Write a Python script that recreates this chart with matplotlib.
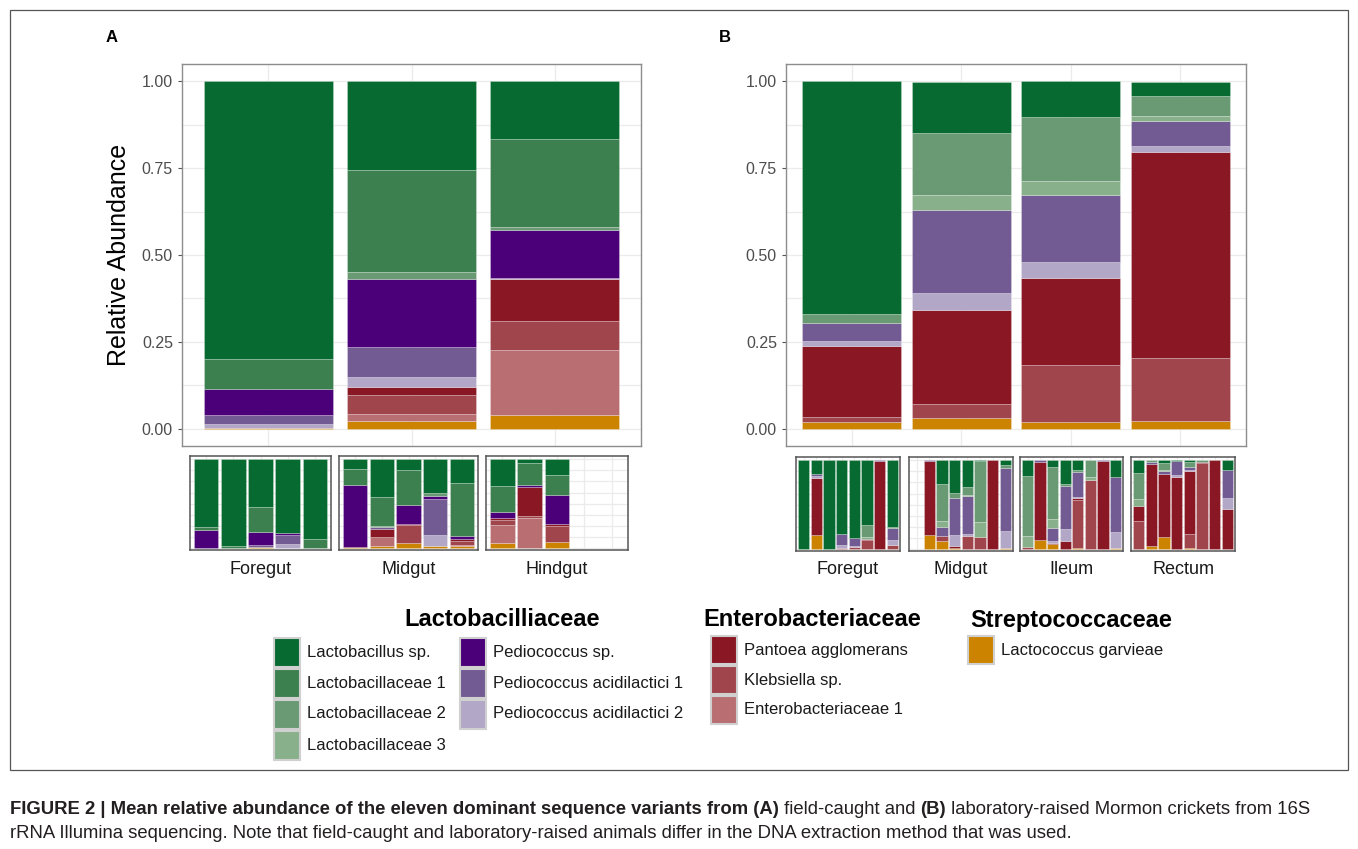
import matplotlib.pyplot as plt
import numpy as np
from matplotlib.patches import Rectangle

plt.rcParams["font.family"] = ["Liberation Sans", "DejaVu Sans"]

W, H = 1358, 849

TAXA = [
    "Lactobacillus sp.", "Lactobacillaceae 1", "Lactobacillaceae 2", "Lactobacillaceae 3",
    "Pediococcus sp.", "Pediococcus acidilactici 1", "Pediococcus acidilactici 2",
    "Pantoea agglomerans", "Klebsiella sp.", "Enterobacteriaceae 1",
    "Lactococcus garvieae",
]
COLORS = [
    "#076b31", "#3d804f", "#6a9a73", "#88b08b",
    "#4b007a", "#725a93", "#b3a7c8",
    "#8a1824", "#a0454b", "#b96e71",
    "#cc8400",
]
FAMILIES = ["Lactobacilliaceae", "Enterobacteriaceae", "Streptococcaceae"]

# every row follows TAXA order:
# LS, L1, L2, L3, PS, PA1, PA2, PAN, KL, EN1, LG
A_GROUPS = ["Foregut", "Midgut", "Hindgut"]
A_MEAN = [
    [0.800, 0.087, 0.000, 0.000, 0.074, 0.027, 0.010, 0.000, 0.000, 0.000, 0.002],
    [0.255, 0.294, 0.020, 0.000, 0.195, 0.087, 0.028, 0.025, 0.053, 0.021, 0.022],
    [0.167, 0.252, 0.008, 0.000, 0.140, 0.000, 0.002, 0.120, 0.085, 0.188, 0.038],
]
B_GROUPS = ["Foregut", "Midgut", "Ileum", "Rectum"]
B_MEAN = [
    [0.670, 0.000, 0.026, 0.000, 0.000, 0.051, 0.015, 0.205, 0.014, 0.000, 0.019],
    [0.149, 0.000, 0.178, 0.042, 0.000, 0.239, 0.049, 0.270, 0.040, 0.000, 0.032],
    [0.104, 0.000, 0.185, 0.038, 0.000, 0.194, 0.046, 0.250, 0.164, 0.000, 0.020],
    [0.040, 0.000, 0.059, 0.013, 0.000, 0.072, 0.017, 0.596, 0.180, 0.000, 0.022],
]

# per-animal samples (None = no sample in that slot)
A_FOREGUT = [
    [0.761, 0.038, 0, 0, 0.196, 0, 0, 0, 0, 0, 0.005],
    [0.980, 0.015, 0, 0, 0, 0, 0, 0, 0, 0, 0.005],
    [0.542, 0.275, 0, 0, 0.150, 0.018, 0.005, 0, 0, 0, 0.010],
    [0.834, 0, 0, 0, 0.019, 0.102, 0.038, 0, 0, 0, 0.007],
    [0.894, 0.098, 0, 0, 0.008, 0, 0, 0, 0, 0, 0],
]
A_MIDGUT = [
    [0.106, 0.181, 0, 0, 0.702, 0, 0, 0, 0, 0, 0.011],
    [0.426, 0.321, 0.019, 0, 0, 0.023, 0, 0.083, 0, 0.106, 0.022],
    [0.117, 0.396, 0, 0, 0.211, 0, 0, 0.019, 0.200, 0, 0.057],
    [0.385, 0, 0.030, 0, 0.030, 0.408, 0.125, 0, 0, 0, 0.022],
    [0.272, 0.596, 0, 0, 0.030, 0, 0, 0.023, 0.038, 0.015, 0.026],
]
A_HINDGUT = [
    [0.302, 0.287, 0, 0, 0.075, 0, 0, 0.019, 0.053, 0.211, 0.053],
    [0.040, 0.253, 0, 0, 0.023, 0, 0, 0.328, 0.013, 0.343, 0],
    [0.174, 0.234, 0, 0, 0.321, 0, 0, 0.023, 0.180, 0, 0.068],
    None,
    None,
]
B_FOREGUT = [
    [1.000, 0, 0, 0, 0, 0, 0, 0, 0, 0, 0],
    [0.156, 0, 0, 0, 0, 0.027, 0.015, 0.639, 0, 0, 0.163],
    [1.000, 0, 0, 0, 0, 0, 0, 0, 0, 0, 0],
    [0.825, 0, 0, 0, 0, 0.129, 0.030, 0, 0.016, 0, 0],
    [0.878, 0, 0, 0, 0, 0.084, 0.015, 0, 0.023, 0, 0],
    [0.726, 0, 0.140, 0.020, 0, 0, 0, 0.015, 0.099, 0, 0],
    [0, 0, 0, 0, 0, 0.011, 0, 0.989, 0, 0, 0],
    [0.749, 0, 0.015, 0, 0, 0.137, 0.053, 0, 0.046, 0, 0],
]
B_MIDGUT = [
    None,
    [0, 0, 0, 0, 0, 0.011, 0, 0.830, 0, 0, 0.159],
    [0.268, 0, 0.411, 0.075, 0, 0.098, 0, 0, 0.060, 0, 0.088],
    [0.374, 0, 0.049, 0, 0, 0.419, 0.121, 0.026, 0, 0, 0.011],
    [0.302, 0, 0.087, 0.019, 0, 0.423, 0.023, 0, 0.146, 0, 0],
    [0.011, 0, 0.687, 0.170, 0, 0, 0, 0, 0.132, 0, 0],
    [0, 0, 0, 0, 0, 0, 0, 1.000, 0, 0, 0],
    [0.057, 0, 0.026, 0, 0, 0.717, 0.189, 0, 0, 0, 0.011],
]
B_ILEUM = [
    [0.179, 0, 0.669, 0.129, 0, 0, 0, 0, 0.023, 0, 0],
    [0, 0, 0, 0, 0, 0.019, 0, 0.882, 0, 0, 0.099],
    [0.076, 0, 0.589, 0.095, 0, 0.152, 0.019, 0.011, 0, 0, 0.058],
    [0.266, 0, 0.019, 0, 0, 0.487, 0.141, 0.087, 0, 0, 0],
    [0.114, 0, 0.019, 0, 0, 0.285, 0.011, 0.019, 0.533, 0, 0.019],
    [0, 0, 0.190, 0.038, 0, 0, 0, 0, 0.772, 0, 0],
    [0, 0, 0, 0, 0, 0.008, 0, 0.992, 0, 0, 0],
    [0.190, 0, 0, 0, 0, 0.616, 0.183, 0, 0, 0, 0.011],
]
B_RECTUM = [
    [0.141, 0, 0.297, 0.076, 0, 0, 0, 0.171, 0.315, 0, 0],
    [0, 0, 0.019, 0, 0, 0.019, 0, 0.924, 0, 0, 0.038],
    [0.030, 0, 0.076, 0.019, 0, 0.034, 0, 0.704, 0, 0, 0.137],
    [0.011, 0, 0, 0, 0, 0.160, 0.023, 0.806, 0, 0, 0],
    [0.019, 0, 0.057, 0, 0, 0.030, 0.011, 0.711, 0.153, 0, 0.019],
    [0, 0, 0.019, 0, 0, 0, 0, 0.011, 0.970, 0, 0],
    [0, 0, 0, 0, 0, 0, 0, 1.000, 0, 0, 0],
    [0.114, 0, 0, 0, 0, 0.316, 0.114, 0.456, 0, 0, 0],
]

TICK_GREY = "#4d4d4d"
GRID = "#ebebeb"


def px_axes(fig, x0, y0, x1, y1):
    return fig.add_axes([x0 / W, 1 - y1 / H, (x1 - x0) / W, (y1 - y0) / H])


def stack_bars(ax, samples):
    n = len(samples)
    x = np.arange(1, n + 1)
    vals = np.array([s if s is not None else [0] * len(TAXA) for s in samples], dtype=float)
    bottom = np.zeros(n)
    # stacked from the last taxon (bottom) up to the first (top)
    for k in range(len(TAXA) - 1, -1, -1):
        h = vals[:, k]
        keep = h > 0
        if keep.any():
            ax.bar(x[keep], h[keep], bottom=bottom[keep], width=0.9, color=COLORS[k],
                   edgecolor=(1, 1, 1, 0.35), linewidth=0.5, zorder=3)
        bottom += h
    ax.set_xlim(0.4, n + 0.6)


def style(ax, border, lw, ylim):
    ax.set_ylim(*ylim)
    ax.set_yticks([0, 0.25, 0.5, 0.75, 1.0])
    ax.set_yticks([0.125, 0.375, 0.625, 0.875], minor=True)
    ax.set_xticks(np.arange(1, int(ax.get_xlim()[1]) + 1))
    ax.grid(True, which="both", color=GRID, linewidth=0.9, zorder=0)
    ax.set_axisbelow(True)
    for sp in ax.spines.values():
        sp.set_color(border)
        sp.set_linewidth(lw)
    ax.tick_params(which="minor", length=0)


def main_panel(ax, samples, ylabel=None):
    stack_bars(ax, samples)
    style(ax, "#8c8c8c", 1.0, (-0.05, 1.05))
    ax.set_yticklabels(["0.00", "0.25", "0.50", "0.75", "1.00"])
    ax.tick_params(axis="y", labelsize=11.5, labelcolor=TICK_GREY, color="#555555", length=3)
    ax.tick_params(axis="x", labelbottom=False, length=0)
    if ylabel:
        ax.set_ylabel(ylabel, fontsize=18, labelpad=8)


def small_panel(ax, samples):
    stack_bars(ax, samples)
    style(ax, "#555555", 1.1, (-0.02, 1.035))
    ax.tick_params(labelleft=False, labelbottom=False, length=0)


fig = plt.figure(figsize=(W / 100, H / 100), dpi=100)

ov = fig.add_axes([0, 0, 1, 1], zorder=-1)
ov.set_xlim(0, W)
ov.set_ylim(H, 0)
ov.axis("off")
ov.add_patch(Rectangle((10, 10), 1338, 760, fill=False, edgecolor="#555555", linewidth=0.9))

axA = px_axes(fig, 182, 64, 641, 446)
main_panel(axA, A_MEAN, "Relative Abundance")
axB = px_axes(fig, 786, 64, 1246, 446)
main_panel(axB, B_MEAN)

ov.text(112, 37, "A", fontsize=12, fontweight="bold", ha="center", va="center")
ov.text(725, 37, "B", fontsize=12, fontweight="bold", ha="center", va="center")

small_a = [(A_FOREGUT, 190, 331), (A_MIDGUT, 339, 478), (A_HINDGUT, 486, 628)]
for (samples, x0, x1), name in zip(small_a, A_GROUPS):
    ax = px_axes(fig, x0, 456, x1, 550)
    small_panel(ax, samples)
    ov.text((x0 + x1) / 2, 569, name, fontsize=13, ha="center", va="center", color="#1a1a1a")

small_b = [(B_FOREGUT, 796, 900), (B_MIDGUT, 909, 1013), (B_ILEUM, 1020, 1123), (B_RECTUM, 1131, 1235)]
for (samples, x0, x1), name in zip(small_b, B_GROUPS):
    ax = px_axes(fig, x0, 457, x1, 551)
    small_panel(ax, samples)
    ov.text((x0 + x1) / 2, 569, name, fontsize=13, ha="center", va="center", color="#1a1a1a")

# legend, drawn by hand in figure pixels
legend_cols = [
    (list(range(0, 4)), 274, 652, 31),
    (list(range(4, 7)), 460, 652, 31),
    (list(range(7, 10)), 711, 650, 30),
    ([10], 968, 650, 30),
]
for idx, kx, y0, step in legend_cols:
    for r, k in enumerate(idx):
        cy = y0 + r * step
        ov.add_patch(Rectangle((kx, cy - step / 2 + 1), 26, step - 2, facecolor=COLORS[k],
                               edgecolor="#d0d0d0", linewidth=1.5))
        ov.text(kx + 33, cy, TAXA[k], fontsize=12, ha="left", va="center", color="#1a1a1a")
for name, cx in zip(FAMILIES, [502, 812, 1071]):
    ov.text(cx, 620, name, fontsize=17, fontweight="bold", ha="center", va="center")

# caption with mixed weights
renderer = fig.canvas.get_renderer()
cap_color = "#231f20"


def write_line(parts, y):
    x = 10
    for txt, bold in parts:
        t = ov.text(x, y, txt, fontsize=13.3, fontweight="bold" if bold else "normal",
                    ha="left", va="center", color=cap_color)
        x = t.get_window_extent(renderer).x1


write_line([
    ("FIGURE 2 | Mean relative abundance of the eleven dominant sequence variants from (A)", True),
    (" field-caught and ", False),
    ("(B)", True),
    (" laboratory-raised Mormon crickets from 16S", False),
], 810)
write_line([
    ("rRNA Illumina sequencing. Note that field-caught and laboratory-raised animals differ in the DNA extraction method that was used.", False),
], 833)

fig.savefig("out.png", dpi=100)
